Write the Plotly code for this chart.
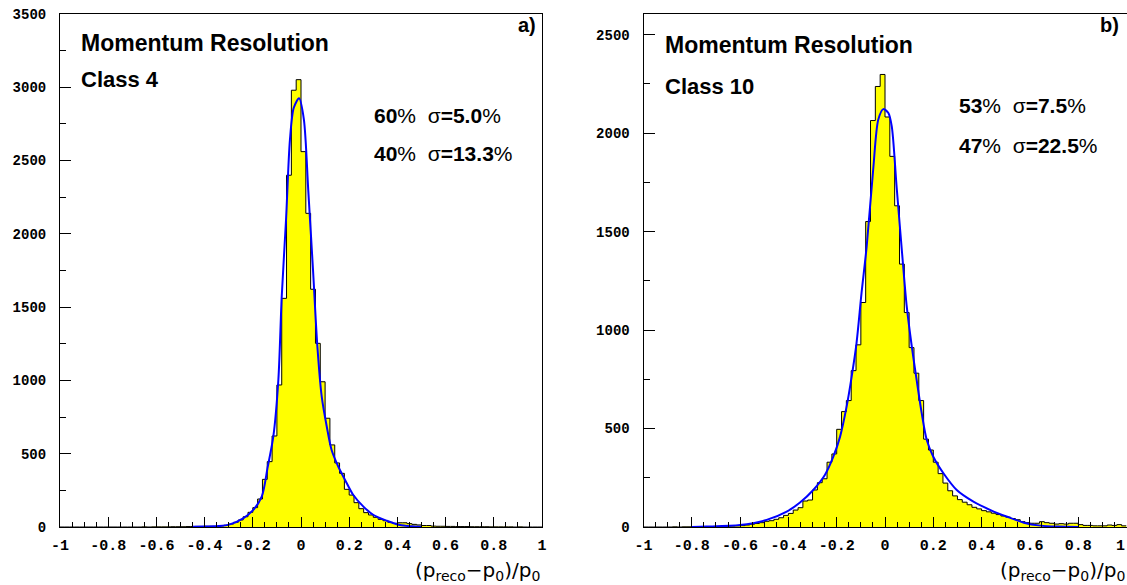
import numpy as np
import plotly.graph_objects as go

W, H = 1127, 585

# ---------------- data ----------------
bin_lo, bin_hi, n_bins = -1.0, 1.0, 100

# Panel a) Class 4 : bin contents, 100 bins of width 0.02 from -1 to 1
counts_a = [0, 0, 0, 0, 0, 0, 0, 0, 0, 0, 0, 0, 0, 0, 0, 0, 0, 1, 0, 1,
            1, 1, 1, 2, 2, 2, 3, 3, 4, 4, 5, 5, 4, 8, 12, 20, 32, 48, 70, 100,
            132, 191, 325, 446, 621, 969, 1560, 2400, 2980, 3052,
            2561, 2140, 1622, 1253, 991, 742, 560, 437, 366, 257,
            218, 166, 125, 98, 82, 66, 52, 43, 32, 25,
            29, 29, 23, 18, 14, 10, 10, 6, 5, 5,
            4, 4, 3, 3, 3, 2, 2, 2, 2, 1, 1, 1, 1, 1, 0, 1, 0, 0, 0, 0]

# Panel b) Class 10
counts_b = [0, 0, 0, 0, 0, 0, 1, 0, 1, 1, 1, 1, 2, 2, 2, 3, 3, 4, 5, 6,
            7, 10, 14, 18, 22, 29, 32, 39, 47, 59, 69, 86, 98, 132, 137,
            188, 225, 245, 329, 371, 496, 586, 642, 794, 925, 1140, 1551, 2064, 2237, 2298,
            2082, 1882, 1631, 1335, 1089, 911, 781, 642, 446, 391,
            329, 271, 223, 184, 158, 139, 126, 113, 100, 92,
            83, 77, 70, 63, 56, 50, 43, 37, 27, 22,
            19, 19, 27, 22, 19, 15, 17, 15, 19, 19,
            12, 8, 8, 6, 6, 6, 10, 8, 12, 6]

# Fit curves, values
fit_x_a = [-0.45, -0.40, -0.34, -0.295, -0.24, -0.20, -0.163, -0.138, -0.115, -0.094,
           -0.080, -0.062, -0.046, -0.030, -0.008, 0.012, 0.030, 0.050, 0.068, 0.086,
           0.107, 0.127, 0.155, 0.183, 0.217, 0.259, 0.301, 0.356, 0.41, 0.46, 0.50]
fit_y_a = [1, 3, 6, 18, 59, 113, 207, 411, 616, 1003,
           1571, 2100, 2640, 2860, 2925, 2780, 2300, 1750, 1230, 889,
           684, 525, 411, 321, 218, 139, 82, 43, 14, 5, 2]

fit_x_b = [-0.80, -0.74, -0.60, -0.49, -0.407, -0.352, -0.297, -0.249, -0.214, -0.186,
           -0.159, -0.138, -0.118, -0.097, -0.076, -0.049, -0.028, -0.007, 0.014, 0.028,
           0.048, 0.073, 0.090, 0.111, 0.131, 0.152, 0.173, 0.200, 0.242, 0.297,
           0.366, 0.437, 0.506, 0.575, 0.644, 0.72, 0.80]
fit_y_b = [0, 2, 10, 36, 78, 124, 188, 264, 357, 459,
           611, 764, 933, 1190, 1424, 1814, 2068, 2122, 2102, 2034,
           1729, 1357, 1120, 916, 747, 578, 442, 357, 273, 188,
           129, 86, 52, 22, 7, 2, 0]

x_tick_vals = [-1, -0.8, -0.6, -0.4, -0.2, 0, 0.2, 0.4, 0.6, 0.8, 1]
x_tick_text = ["-1", "-0.8", "-0.6", "-0.4", "-0.2", "0", "0.2", "0.4", "0.6", "0.8", "1"]
y_ticks_a = [0, 500, 1000, 1500, 2000, 2500, 3000, 3500]
y_ticks_b = [0, 500, 1000, 1500, 2000, 2500]
y_max_a = 3500
y_max_b = 2605

title_text = "Momentum Resolution"
class_a, class_b = "Class 4", "Class 10"
tag_a, tag_b = "a)", "b)"
frac_a = [("60", "5.0"), ("40", "13.3")]
frac_b = [("53", "7.5"), ("47", "22.5")]
axis_title = "(p<sub>reco</sub>−p<sub>0</sub>)/p<sub>0</sub>"

# ---------------- figure ----------------
edges = np.linspace(bin_lo, bin_hi, n_bins + 1)


def px(x):
    return x / W


def py(y):
    return 1 - y / H


fig = go.Figure()

for counts, fx, fy, xa, ya in [(counts_a, fit_x_a, fit_y_a, "x", "y"),
                               (counts_b, fit_x_b, fit_y_b, "x2", "y2")]:
    fig.add_trace(go.Scatter(
        x=edges, y=list(counts) + [counts[-1]],
        mode="lines", line=dict(shape="hv", color="#000000", width=1),
        fill="tozeroy", fillcolor="#ffff00",
        xaxis=xa, yaxis=ya, showlegend=False, hoverinfo="skip"))
    fig.add_trace(go.Scatter(
        x=fx, y=fy, mode="lines",
        line=dict(shape="spline", smoothing=0.8, color="#0000ff", width=2),
        xaxis=xa, yaxis=ya, showlegend=False, hoverinfo="skip"))

tickfont = dict(family="Liberation Mono", size=15, color="#000000", weight="bold")
ytickfont = dict(family="Liberation Mono", size=14, color="#000000", weight="bold")

xcommon = dict(range=[-1, 1], tickvals=x_tick_vals, ticktext=x_tick_text,
               ticks="inside", ticklen=10, tickwidth=1, tickcolor="#000000",
               minor=dict(dtick=0.05, ticks="inside", ticklen=5, tickcolor="#000000"),
               showline=True, linecolor="#000000", linewidth=1, mirror=True,
               showgrid=False, zeroline=False, tickfont=tickfont,
               ticklabelstandoff=4, automargin=False)
ycommon = dict(ticks="inside", ticklen=11, tickwidth=1, tickcolor="#000000",
               minor=dict(dtick=250, ticks="inside", ticklen=6, tickcolor="#000000"),
               showline=True, linecolor="#000000", linewidth=1, mirror=True,
               showgrid=False, zeroline=False, tickfont=ytickfont,
               ticklabelstandoff=10, automargin=False)

ydom = [py(527), py(14)]
fig.update_layout(
    width=W, height=H, autosize=False,
    margin=dict(l=0, r=0, t=0, b=0),
    paper_bgcolor="#ffffff", plot_bgcolor="#ffffff",
    xaxis=dict(domain=[px(60), px(542)], anchor="y", **xcommon),
    yaxis=dict(domain=ydom, anchor="x", range=[0, y_max_a],
               tickvals=y_ticks_a, **ycommon),
    xaxis2=dict(domain=[px(643.5), px(1126.5)], anchor="y2", **xcommon),
    yaxis2=dict(domain=ydom, anchor="x2", range=[0, y_max_b],
                tickvals=y_ticks_b, **ycommon),
)

sans_b = dict(family="Liberation Sans", color="#000000", weight="bold")

ann = []


def add(text, x, y, size, xanchor="left", yanchor="middle", font=None):
    f = dict(sans_b if font is None else font)
    f["size"] = size
    ann.append(dict(text=text, x=px(x), y=py(y), xref="paper", yref="paper",
                    xanchor=xanchor, yanchor=yanchor, showarrow=False, font=f))


def frac_line(pct, sig):
    return (f"{pct}<span style='font-weight:normal'>%  σ</span>={sig}"
            f"<span style='font-weight:normal'>%</span>")


# panel a
add(title_text, 79, 43, 23)
add(class_a, 79, 80, 22)
add(tag_a, 538, 25, 20, xanchor="right")
add(frac_line(*frac_a[0]), 372, 116, 21)
add(frac_line(*frac_a[1]), 372, 154, 21)
# panel b
add(title_text, 663, 45, 23)
add(class_b, 663, 86, 22)
add(tag_b, 1121, 25, 20, xanchor="right")
add(frac_line(*frac_b[0]), 957, 105, 21)
add(frac_line(*frac_b[1]), 957, 145, 21)
# last tick label of panel b, which sits on the page edge
ann.append(dict(text=x_tick_text[-1], x=1.0, y=py(546), xref="paper", yref="paper",
                xanchor="right", yanchor="middle", showarrow=False, font=tickfont))
# axis titles
tfont = dict(family="DejaVu Sans", color="#000000", weight="normal")
add(axis_title, 542, 571, 20, xanchor="right", font=tfont)
add(axis_title, 1127, 571, 20, xanchor="right", font=tfont)

fig.update_layout(annotations=ann)

fig.write_html("out.html", config={"displayModeBar": False},
               post_script="document.body.style.margin='0';")
